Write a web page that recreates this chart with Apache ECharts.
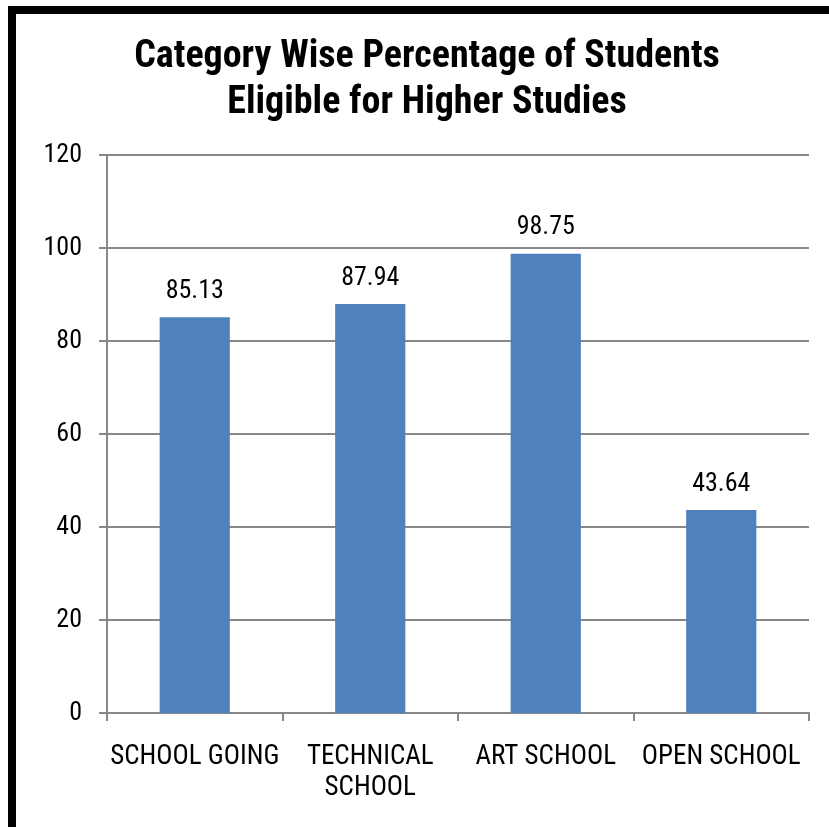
<!DOCTYPE html>
<html><head><meta charset="utf-8">
<script src="https://cdn.jsdelivr.net/npm/echarts@6/dist/echarts.min.js"></script>
<style>html,body{margin:0;padding:0;background:#fff}#c{width:829px;height:827px}</style>
</head><body><div id="c"></div>
<script>
var categories = ['SCHOOL GOING', 'TECHNICAL\nSCHOOL', 'ART SCHOOL', 'OPEN SCHOOL'];
var values = [85.13, 87.94, 98.75, 43.64];
var yTicks = {min: 0, max: 120, interval: 20};
var titleText = 'Category Wise Percentage of Students\nEligible for Higher Studies';

var FONT = '"Roboto Condensed", "Liberation Sans Narrow", sans-serif';
var chart = echarts.init(document.getElementById('c'), null, {renderer: 'canvas'});
chart.setOption({
  backgroundColor: '#fff',
  animation: false,
  title: {
    text: titleText,
    left: 422, top: 29, textAlign: 'center',
    textStyle: {fontFamily: FONT, fontWeight: 'bold', fontSize: 38, lineHeight: 46, color: '#000'}
  },
  graphic: [
    {type: 'rect', shape: {x: 8, y: 6, width: 8, height: 821}, style: {fill: '#000'}},
    {type: 'rect', shape: {x: 8, y: 6, width: 821, height: 8}, style: {fill: '#000'}}
  ],
  grid: {left: 107, right: 20, top: 155, bottom: 114, containLabel: false},
  xAxis: {
    type: 'category', data: categories,
    axisLine: {lineStyle: {color: '#888', width: 2}},
    axisTick: {show: true, length: 8, alignWithLabel: false, lineStyle: {color: '#888', width: 2}},
    axisLabel: {fontFamily: FONT, fontSize: 27, color: '#000', margin: 29, lineHeight: 31, interval: 0}
  },
  yAxis: {
    type: 'value', min: yTicks.min, max: yTicks.max, interval: yTicks.interval,
    axisLine: {show: true, lineStyle: {color: '#888', width: 2}},
    axisTick: {show: true, length: 8, lineStyle: {color: '#888', width: 2}},
    splitLine: {lineStyle: {color: '#888', width: 2}},
    axisLabel: {fontFamily: FONT, fontSize: 26, color: '#000', margin: 25}
  },
  series: [{
    type: 'bar', data: values, barWidth: '40%',
    itemStyle: {color: '#4F81BD'},
    label: {show: true, position: 'top', distance: 13, fontFamily: FONT, fontSize: 26, color: '#000',
      formatter: function(p){ return p.value.toFixed(2); }}
  }]
});
</script></body></html>
